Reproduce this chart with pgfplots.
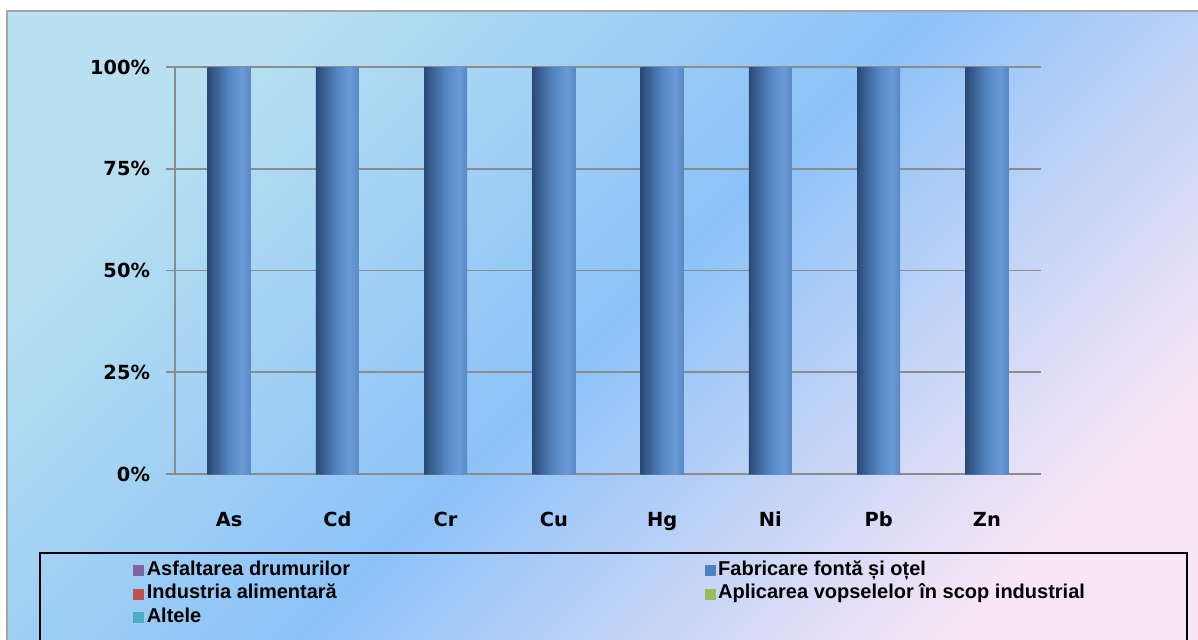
\documentclass[border=0pt]{standalone}
\usepackage{pgfplots}
\pgfplotsset{compat=1.18}
\usepackage{fontspec}
\setmainfont{Liberation Sans}
\newfontfamily\tickfont{DejaVu Sans}

\definecolor{serA}{HTML}{8064A2}
\definecolor{serB}{HTML}{4F81BD}
\definecolor{serC}{HTML}{C0504D}
\definecolor{serD}{HTML}{9BBB59}
\definecolor{serE}{HTML}{4BACC6}
\definecolor{gridgray}{HTML}{8C8C8C}
\definecolor{bgTL}{HTML}{B8E0F0}
\definecolor{bgMid}{HTML}{8CC2F8}
\definecolor{bgBR}{HTML}{F8E6F6}
\definecolor{cylA}{HTML}{2A4A76}
\definecolor{cylB}{HTML}{5586C4}
\definecolor{cylC}{HTML}{6A9AD8}
\definecolor{cylD}{HTML}{5A88C2}

% cylinder look of the bars: dark left edge, highlight right of centre
\pgfdeclarehorizontalshading{cylinder}{100bp}{color(0bp)=(cylA); color(25bp)=(cylA); color(50bp)=(cylB); color(65bp)=(cylC); color(75bp)=(cylD); color(100bp)=(cylD)}

\begin{document}
\begin{tikzpicture}[x=1pt,y=1pt]
  \path[use as bounding box] (0,0) rectangle (599,319.5);
  \begin{scope}
    \clip (0,0) rectangle (599,319.5);
    \fill[white] (0,0) rectangle (599,319.5);
    \shade[top color=bgTL, bottom color=bgBR, middle color=bgMid, shading angle=45]
      (3.5,-5) rectangle (605,314);
    \draw[gray!70, line width=0.8pt] (3.5,-5) rectangle (605,314);
    \draw[black, line width=0.7pt] (20,-5) rectangle (593.5,43);
  \end{scope}

  \begin{axis}[
    at={(87.5pt,82.5pt)}, anchor=south west,
    scale only axis, width=433pt, height=203.5pt,
    ybar, bar width=21.5pt,
    xmin=-0.5, xmax=7.5, ymin=0, ymax=100,
    xtick={0,...,7},
    xticklabels={As,Cd,Cr,Cu,Hg,Ni,Pb,Zn},
    major x tick style={draw=none},
    extra x ticks={-0.5,0.5,...,7.5},
    extra x tick labels={},
    extra x tick style={grid=none, major tick length=3.5pt,
      tick style={draw=gridgray, line width=0.8pt}},
    ytick={0,25,50,75,100},
    yticklabels={0\%,25\%,50\%,75\%,100\%},
    ymajorgrids,
    grid style={gridgray, line width=0.9pt},
    axis lines*=left,
    axis line style={gridgray, line width=0.9pt},
    y tick style={gridgray, line width=0.9pt},
    tick align=outside, major tick length=4.5pt,
    ticklabel style={font=\tickfont\bfseries\fontsize{9.7}{11}\selectfont},
    xticklabel style={yshift=-11pt},
    yticklabel style={xshift=-4.5pt},
    legend columns=2,
    legend cell align=left,
    legend image code/.code={\fill[#1] (0pt,-2.7pt) rectangle (5.4pt,2.7pt);},
    legend style={at={(axis description cs:-0.0485,-0.209)}, anchor=north west,
      draw=none, fill=none, inner sep=0pt, row sep=0.25pt,
      font=\bfseries\fontsize{10}{11}\selectfont,
      nodes={inner sep=1.3pt, text height=6.8pt, text depth=2pt},
      /tikz/every even column/.append style={column sep=176pt}},
  ]
    \addlegendimage{fill=serA, draw=none}
    \addlegendentry{Asfaltarea drumurilor}
    \addlegendimage{fill=serB, draw=none}
    \addlegendentry{Fabricare fontă și oțel}
    \addlegendimage{fill=serC, draw=none}
    \addlegendentry{Industria alimentară}
    \addlegendimage{fill=serD, draw=none}
    \addlegendentry{Aplicarea vopselelor în scop industrial}
    \addlegendimage{fill=serE, draw=none}
    \addlegendentry{Altele}

    % Asfaltarea drumurilor
    \addplot[forget plot, bar shift=0pt, draw=none, fill=serA]
      coordinates {(0,0)(1,0)(2,0)(3,0)(4,0)(5,0)(6,0)(7,0)};
    % Fabricare fonta si otel: one plot per bar, so each bar gets its own shading
    \addplot[forget plot, bar shift=0pt, draw=none, shade, shading=cylinder] coordinates {(0,100)};
    \addplot[forget plot, bar shift=0pt, draw=none, shade, shading=cylinder] coordinates {(1,100)};
    \addplot[forget plot, bar shift=0pt, draw=none, shade, shading=cylinder] coordinates {(2,100)};
    \addplot[forget plot, bar shift=0pt, draw=none, shade, shading=cylinder] coordinates {(3,100)};
    \addplot[forget plot, bar shift=0pt, draw=none, shade, shading=cylinder] coordinates {(4,100)};
    \addplot[forget plot, bar shift=0pt, draw=none, shade, shading=cylinder] coordinates {(5,100)};
    \addplot[forget plot, bar shift=0pt, draw=none, shade, shading=cylinder] coordinates {(6,100)};
    \addplot[forget plot, bar shift=0pt, draw=none, shade, shading=cylinder] coordinates {(7,100)};
    % Industria alimentara
    \addplot[forget plot, bar shift=0pt, draw=none, fill=serC]
      coordinates {(0,0)(1,0)(2,0)(3,0)(4,0)(5,0)(6,0)(7,0)};
    % Aplicarea vopselelor
    \addplot[forget plot, bar shift=0pt, draw=none, fill=serD]
      coordinates {(0,0)(1,0)(2,0)(3,0)(4,0)(5,0)(6,0)(7,0)};
    % Altele
    \addplot[forget plot, bar shift=0pt, draw=none, fill=serE]
      coordinates {(0,0)(1,0)(2,0)(3,0)(4,0)(5,0)(6,0)(7,0)};
  \end{axis}
\end{tikzpicture}
\end{document}
